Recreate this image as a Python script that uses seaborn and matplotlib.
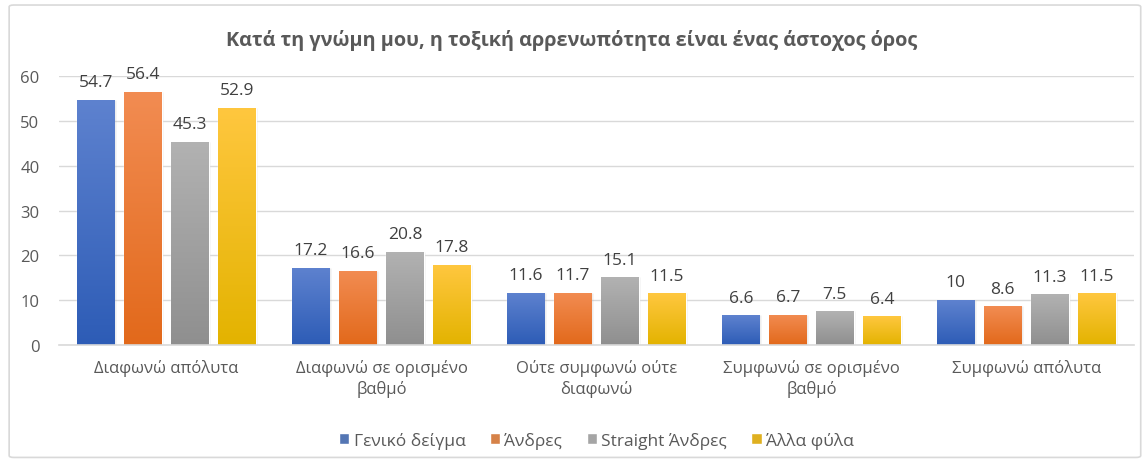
import numpy as np
import pandas as pd
import seaborn as sns
import matplotlib.pyplot as plt
from matplotlib.colors import LinearSegmentedColormap
from matplotlib.patches import FancyBboxPatch

# data
categories = [
    "Διαφωνώ απόλυτα",
    "Διαφωνώ σε ορισμένο\nβαθμό",
    "Ούτε συμφωνώ ούτε\nδιαφωνώ",
    "Συμφωνώ σε ορισμένο\nβαθμό",
    "Συμφωνώ απόλυτα",
]
groups = ["Γενικό δείγμα", "Άνδρες", "Straight Άνδρες", "Άλλα φύλα"]
general = [54.7, 17.2, 11.6, 6.6, 10]
men = [56.4, 16.6, 11.7, 6.7, 8.6]
straight_men = [45.3, 20.8, 15.1, 7.5, 11.3]
other = [52.9, 17.8, 11.5, 6.4, 11.5]

# gradient colours (top, bottom) like the excel fill
grad = {
    "Γενικό δείγμα": ("#5E82CF", "#2D5CB6"),
    "Άνδρες": ("#F28C52", "#E2691B"),
    "Straight Άνδρες": ("#B2B2B2", "#8F8F8F"),
    "Άλλα φύλα": ("#FFC73F", "#E3B300"),
}
palette = {"Γενικό δείγμα": "#4472C4", "Άνδρες": "#ED7D31",
           "Straight Άνδρες": "#A5A5A5", "Άλλα φύλα": "#FFC000"}

df = pd.DataFrame({
    "cat": categories * 4,
    "group": np.repeat(groups, len(categories)),
    "value": general + men + straight_men + other,
})

sns.set_style("white")
plt.rcParams["font.family"] = ["Open Sans", "DejaVu Sans"]
text_col = "#595959"

fig = plt.figure(figsize=(11.43, 4.64), dpi=100)
ax = fig.add_axes([0.0516, 0.2543, 0.9404, 0.5797])

# outer chart border
fig.patches.append(FancyBboxPatch((0.008, 0.012), 0.99, 0.975,
                                  boxstyle="round,pad=0,rounding_size=0.004",
                                  transform=fig.transFigure, fill=False,
                                  edgecolor="#D9D9D9", linewidth=1.2))

sns.barplot(data=df, x="cat", y="value", hue="group", hue_order=groups,
            palette=palette, width=0.876, gap=0.21, ax=ax, legend=True)

ax.set_ylim(0, 60)
ax.set_xlim(-0.5, 4.5)
ax.set_yticks(range(0, 61, 10))
ax.yaxis.grid(True, color="#D9D9D9", linewidth=1)
ax.set_axisbelow(True)
for s in ["top", "right", "left"]:
    ax.spines[s].set_visible(False)
ax.spines["bottom"].set_color("#D9D9D9")
ax.spines["bottom"].set_linewidth(1.2)
ax.tick_params(axis="both", length=0, colors=text_col, labelsize=12)
ax.tick_params(axis="y", pad=14)
ax.tick_params(axis="x", pad=10)
for lbl in ax.get_xticklabels():
    lbl.set_linespacing(1.35)
ax.set_xlabel("")
ax.set_ylabel("")

# gradient fill + labels
for container, g in zip(ax.containers, groups):
    cmap = LinearSegmentedColormap.from_list(g, [grad[g][1], grad[g][0]])
    for bar in container:
        x0, y0 = bar.get_x(), bar.get_y()
        w, h = bar.get_width(), bar.get_height()
        # faint shadow
        ax.bar(x0 + w / 2 + 0.006, h, width=w, bottom=0, color="#000000",
               alpha=0.08, zorder=1.5)
        bar.set_zorder(2)
        img = ax.imshow(np.linspace(0, 1, 256).reshape(-1, 1), cmap=cmap,
                        extent=[x0, x0 + w, y0, y0 + h], origin="lower",
                        aspect="auto", zorder=2.1)
        img.set_clip_path(bar)
    ax.bar_label(container, labels=[f"{v:g}" for v in container.datavalues],
                 padding=7, color="#404040", fontsize=12.5)
ax.set_xlim(-0.5, 4.5)
ax.set_ylim(0, 60)

ax.legend(loc="upper center", bbox_to_anchor=(0.5, -0.265), ncol=4,
          frameon=False, fontsize=12.5, handlelength=0.6, handleheight=0.6,
          handletextpad=0.25, columnspacing=1.4, labelcolor=text_col)

fig.text(0.5, 0.913, "Κατά τη γνώμη μου, η τοξική αρρενωπότητα είναι ένας άστοχος όρος",
         ha="center", va="center", fontsize=14.3, fontweight="bold", color=text_col)

fig.savefig("out.png", dpi=100)
